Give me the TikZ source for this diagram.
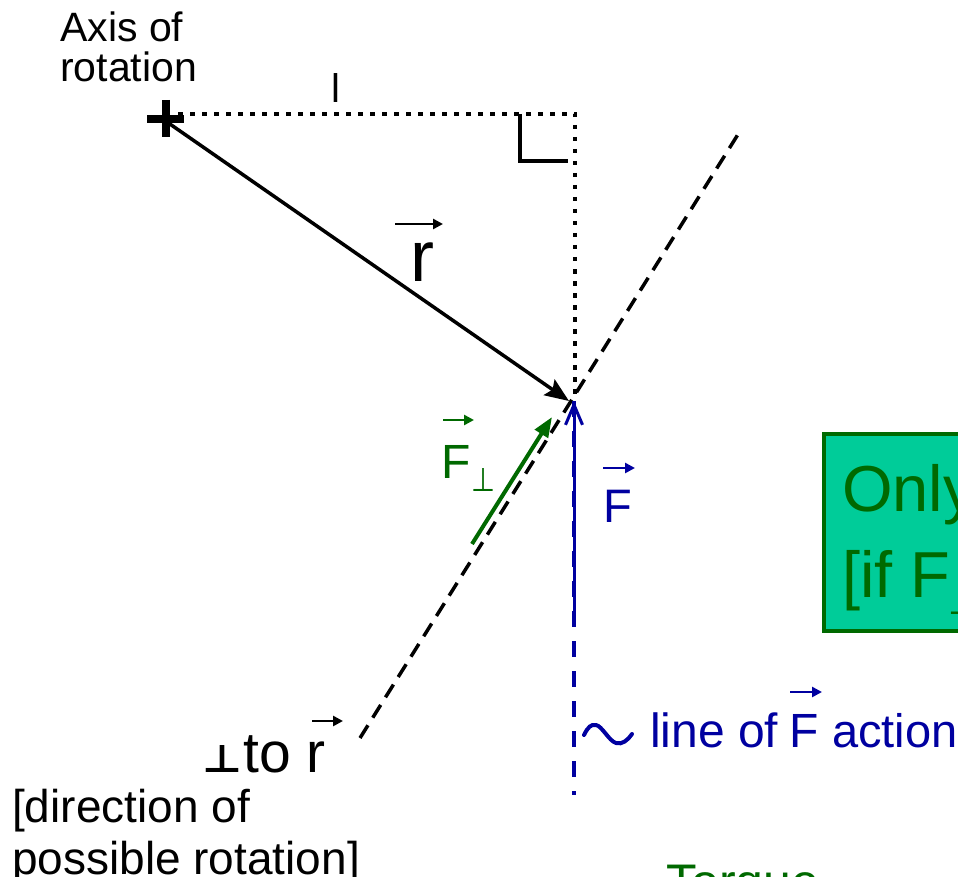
\documentclass[tikz,border=0pt]{standalone}
\usepackage{fontspec}
\usepackage{graphicx}
\setmainfont{Liberation Sans}
\newfontfamily\dejavu{DejaVu Sans}
\usetikzlibrary{arrows.meta,calc}
\definecolor{fgreen}{RGB}{0,105,0}
\definecolor{fblue}{RGB}{0,0,160}
\definecolor{boxfill}{RGB}{0,204,153}
\newcommand\fsz[1]{\fontsize{#1}{#1}\selectfont}
\newcommand\perpsym[2]{\resizebox{#1}{#2}{\dejavu ⊥}}
\newcommand\perpbold[2]{\resizebox{#1}{#2}{\dejavu\bfseries ⊥}}
\begin{document}
\begin{tikzpicture}[x=1pt,y=-1pt,
  txt/.style={inner sep=0pt, anchor=base west},
  vecarr/.style={line width=2.6pt, -{Triangle[length=10pt,width=10pt]}},
  dotline/.style={line width=4.5pt, dash pattern=on 4.5pt off 7.5pt},
  dashline/.style={line width=3.5pt, dash pattern=on 15pt off 9pt},
  rvec/.style={line width=3.5pt, -{Stealth[length=24pt,width=19pt,inset=4pt]}},
  gvec/.style={fgreen, line width=4pt, -{Triangle[length=20pt,width=15pt]}},
  bvec/.style={fblue, line width=3pt, -{Straight Barb[length=20pt,width=17pt]}},
  bdash/.style={fblue, line width=4pt, dash pattern=on 16pt off 14pt}]
\useasboundingbox (0,0) rectangle (958,877);
\clip (0,0) rectangle (958,877);

% coordinates
\coordinate (O) at (166,119);
\coordinate (C) at (575,114);
\coordinate (P) at (575,400);
\coordinate (rtip) at (569,401);
\coordinate (D1) at (360,738);
\coordinate (D2) at (742,128);
\coordinate (G1) at (472,544);
\coordinate (G2) at (552,417);
\coordinate (B1) at (574,615);
\coordinate (B0) at (574,401);
\coordinate (B2) at (574,795);

% green box
\path[draw=fgreen, fill=boxfill, line width=4pt] (824,434) rectangle (1010,631);
\node[txt, fgreen, font=\fsz{65}] (only) at (842,511) {Only};
\node[txt, fgreen, font=\fsz{65}] (iff) at (842,597) {[if F\hspace{-2pt}\raisebox{-17pt}{\perpsym{30pt}{28pt}}};

% axis label
\node[txt, font=\fsz{41}] (ax1) at (60,42) {Axis of};
\node[txt, font=\fsz{41}] (ax2) at (60,82) {rotation};

% plus sign
\draw[line width=8pt] ($(O)+(-19,0)$) -- ($(O)+(18,0)$);
\draw[line width=8pt] ($(O)+(0,-19)$) -- ($(O)+(0,18)$);

% dotted lever arm
\draw[dotline] ($(O)+(12,-5)$) -- (C) -- (P);
\node[txt, font=\fsz{40}] (lab) at (331,103) {l};
\draw[line width=4pt] (520,114) -- (520,161) -- (568,161);

% dashed perpendicular line
\draw[dashline] (D1) -- (D2);

% r vector
\draw[rvec] ($(O)+(1,3)$) -- (rtip);
\node[txt, font=\fsz{72}] (rlab) at (410,282) {r};
\draw[vecarr] ($(rlab.base west)+(-15,-58)$) -- ++(48,0);

% F perp
\draw[gvec] (G1) -- (G2);
\node[txt, fgreen, font=\fsz{48}] (fp) at (441,478) {F\hspace{1pt}\raisebox{-13pt}{\perpsym{24pt}{23pt}}};
\draw[vecarr, fgreen] ($(fp.base west)+(2,-58)$) -- ++(31,0);

% F
\draw[bdash] (B0) -- (B2);
\draw[bvec] (B1) -- (B0);
\node[txt, fblue, font=\fsz{47}] (fb) at (603,522) {F};
\draw[vecarr, fblue] ($(fb.base west)+(0,-54)$) -- ++(32,0);

% line of F action
\draw[fblue, line width=4pt, line cap=round] (584,735) .. controls (588,727) and (591,724) .. (596,725) .. controls (602,726) and (609,741) .. (616,743) .. controls (622,745) and (628,740) .. (632,734);
\node[txt, fblue, font=\fsz{48}] (lo) at (650,747) {line of};
\node[txt, fblue, font=\fsz{48}] (lf) at (789,747) {F};
\node[txt, fblue, font=\fsz{47}] (la) at (832,747) {action};
\draw[vecarr, fblue] ($(lf.base west)+(1,-55)$) -- ++(32,0);

% perp to r
\node[txt] (perp) at (202,772) {\perpbold{40pt}{27pt}};
\node[txt, font=\fsz{57}] (tor) at (243,772) {to r};
\draw[vecarr] ($(tor.base west)+(69,-51)$) -- ++(31,0);
\node[txt, font=\fsz{46}] (dir1) at (12,822) {[direction of};
\node[txt, font=\fsz{46}] (dir2) at (12,874) {possible rotation]};

% Torque
\node[txt, fgreen, font=\fsz{50}] (torque) at (666,899) {Torque};
\end{tikzpicture}
\end{document}
